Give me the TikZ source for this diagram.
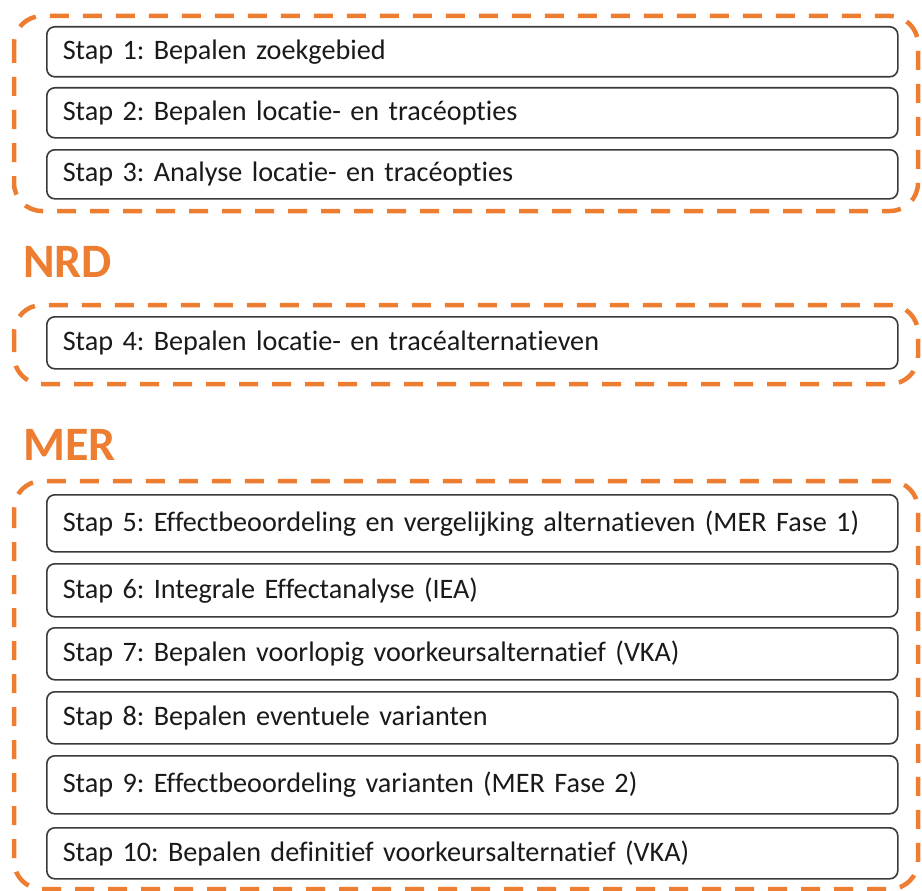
\documentclass[tikz,border=0pt]{standalone}
\usepackage{fontspec}
\setmainfont{Carlito}[RawFeature=-liga]
\frenchspacing
\definecolor{accent}{HTML}{ED7D31}
\definecolor{boxline}{HTML}{3A3A3A}
\definecolor{ink}{HTML}{1A1A1A}
\tikzset{
  stepbox/.style={draw=boxline, line width=1.6pt, rounded corners=8pt, fill=white,
    anchor=north west, minimum width=851pt, text width=819pt, inner xsep=16pt,
    inner ysep=0pt, align=left, font=\fontsize{28.2}{32}\selectfont, text=ink},
  phase/.style={draw=accent, line width=4.5pt, rounded corners=28pt,
    dash pattern=on 19pt off 14pt},
  heading/.style={anchor=base west, inner sep=0pt, text=accent,
    font=\fontsize{48}{54}\selectfont\bfseries}
}
\begin{document}
\begin{tikzpicture}[x=1pt,y=-1pt]
\useasboundingbox (0,0) rectangle (922,891);
% phase groups
\draw[phase] (14,16) rectangle (918,211);
\draw[phase] (14,305) rectangle (918,384);
\draw[phase] (14,481) rectangle (918,889);
% headings
\node[heading] (nrd) at (23,277) {NRD};
\node[heading] (mer) at (23,460) {MER};
% steps
\node[stepbox, minimum height=50pt] (s1) at (46,26) {Stap 1: Bepalen zoekgebied};
\node[stepbox, minimum height=50pt] (s2) at (46,87) {Stap 2: Bepalen locatie- en tracéopties};
\node[stepbox, minimum height=49pt] (s3) at (46,149) {Stap 3: Analyse locatie- en tracéopties};
\node[stepbox, minimum height=52pt] (s4) at (46,316) {Stap 4: Bepalen locatie- en tracéalternatieven};
\node[stepbox, minimum height=57pt] (s5) at (46,494) {Stap 5: Effectbeoordeling en vergelijking alternatieven (MER Fase 1)};
\node[stepbox, minimum height=53pt] (s6) at (46,563) {Stap 6: Integrale Effectanalyse (IEA)};
\node[stepbox, minimum height=52pt] (s7) at (46,627) {Stap 7: Bepalen voorlopig voorkeursalternatief (VKA)};
\node[stepbox, minimum height=52pt] (s8) at (46,691) {Stap 8: Bepalen eventuele varianten};
\node[stepbox, minimum height=58pt] (s9) at (46,755) {Stap 9: Effectbeoordeling varianten (MER Fase 2)};
\node[stepbox, minimum height=51pt] (s10) at (46,827) {Stap 10: Bepalen definitief voorkeursalternatief (VKA)};
\end{tikzpicture}
\end{document}
